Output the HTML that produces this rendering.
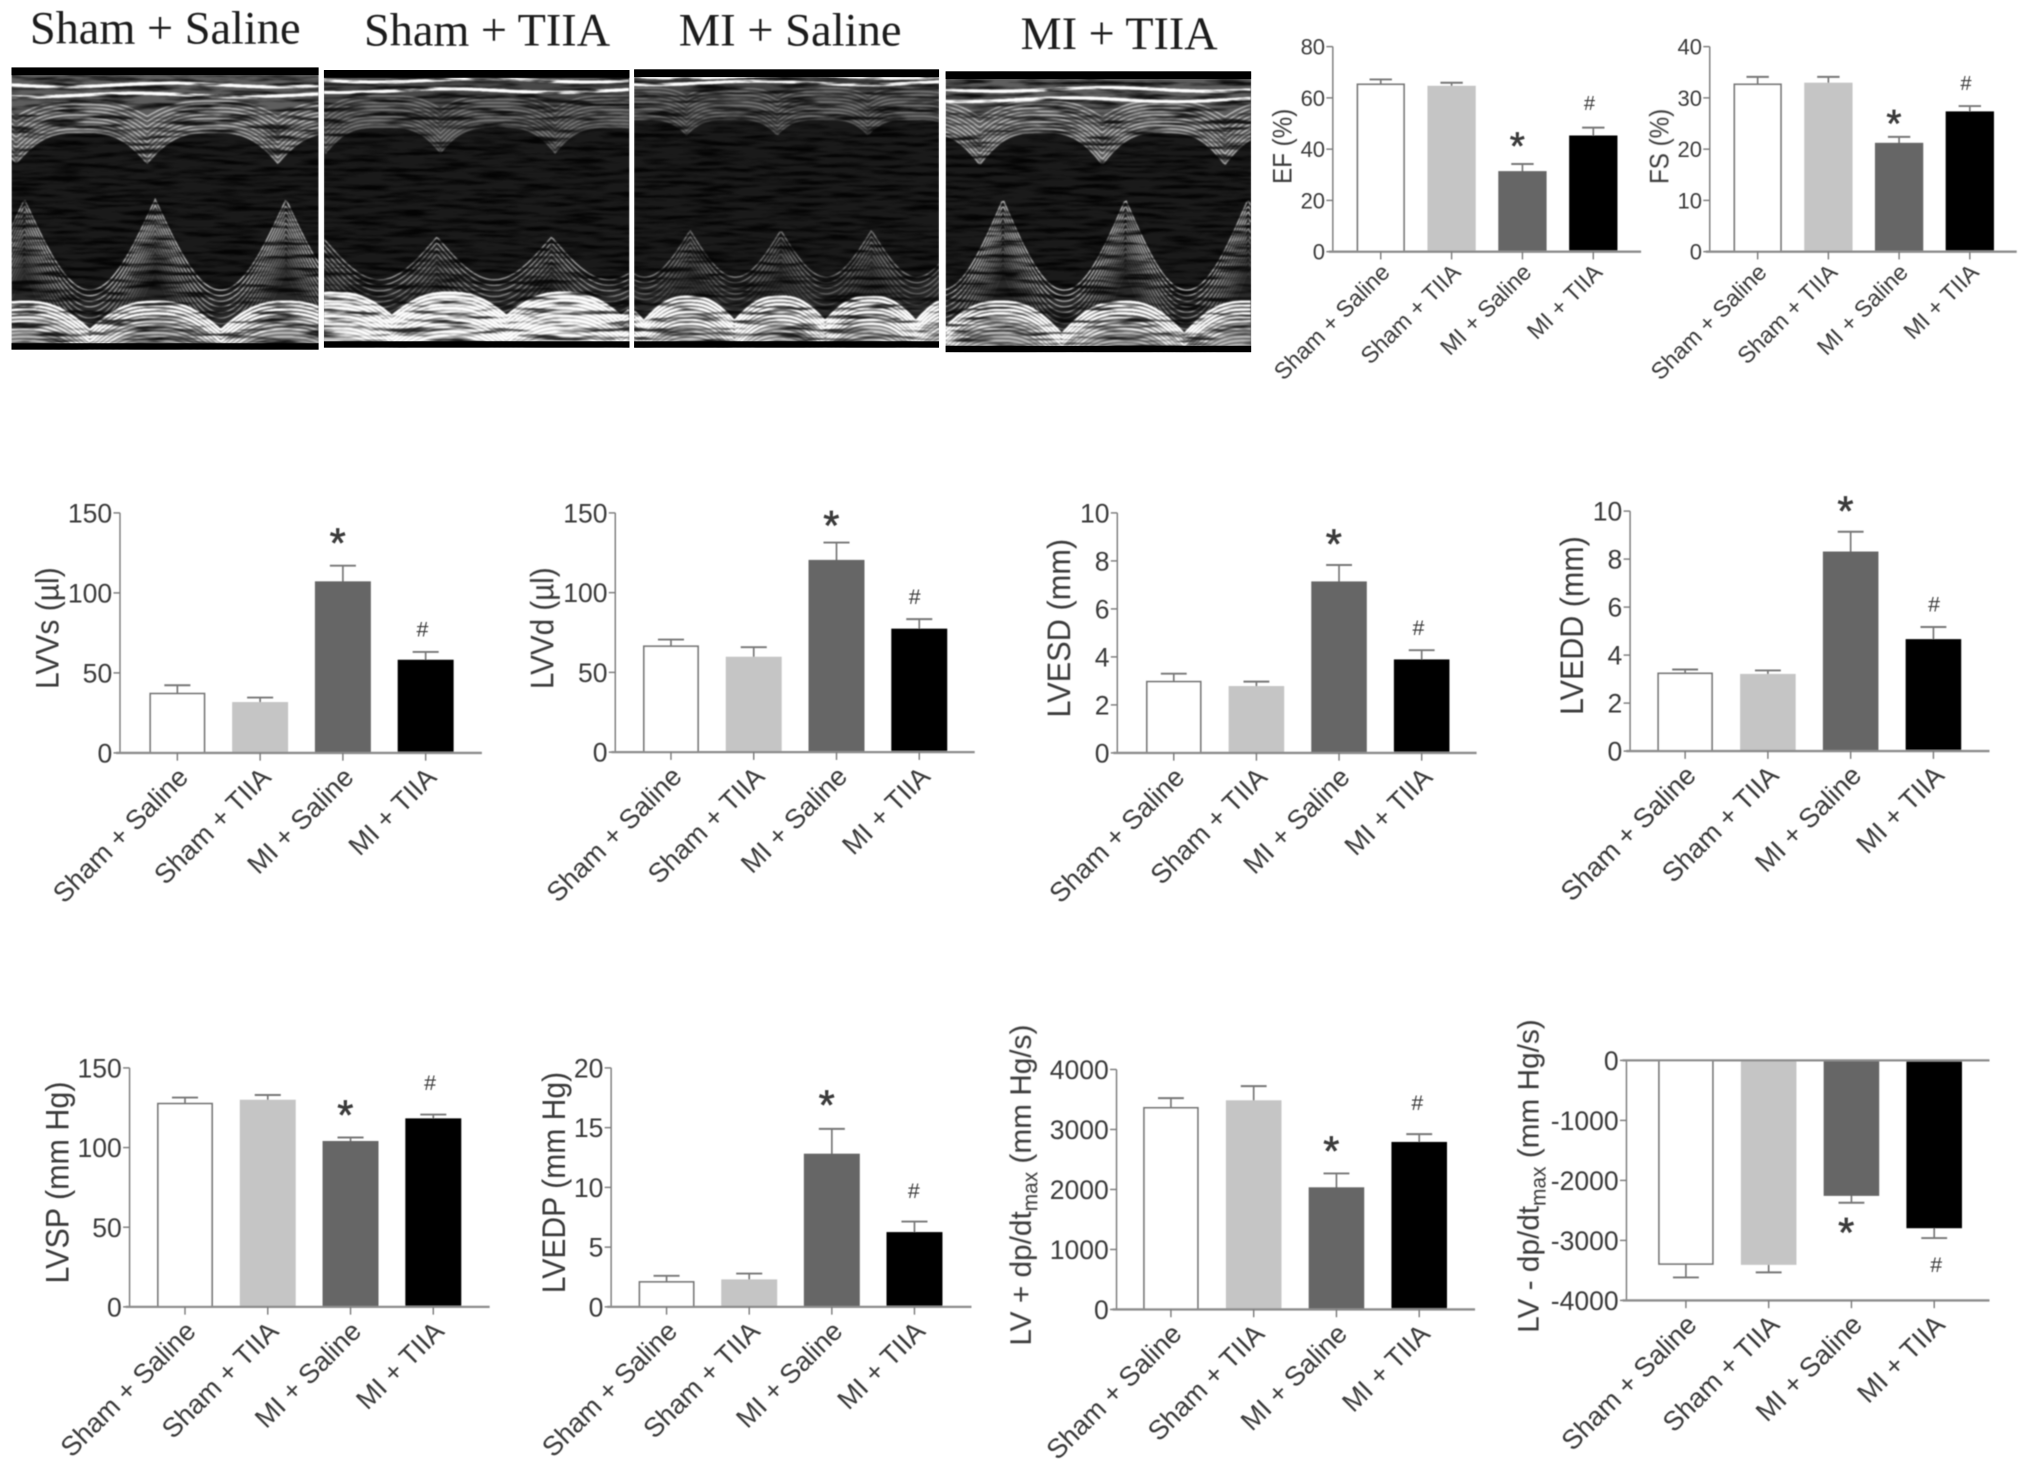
<!DOCTYPE html>
<html lang="en">
<head>
<meta charset="utf-8">
<title>Echocardiography and haemodynamic bar charts</title>
<style>
html,body{margin:0;padding:0;background:#fff;}
svg{display:block;}
text{font-family:"Liberation Sans",Arial,sans-serif;fill:#3a3a3a;}
.serif{font-family:"Liberation Serif","Times New Roman",serif;fill:#1e1e1e;}
</style>
</head>
<body>
<svg id="figure" xmlns="http://www.w3.org/2000/svg" width="2031" height="1468" viewBox="0 0 1568 1133.4">
  <defs>
    <filter id="speckle" x="0" y="0" width="1" height="1" color-interpolation-filters="sRGB">
      <feTurbulence type="fractalNoise" baseFrequency="0.03 0.3" numOctaves="4" seed="7" result="n"/>
      <feColorMatrix in="n" type="matrix" values="3.2 0 0 0 -0.85  3.2 0 0 0 -0.85  3.2 0 0 0 -0.85  0 0 0 0 1" result="g"/>
      <feComposite in="SourceGraphic" in2="g" operator="arithmetic" k1="1.25" k2="0.2" k3="0" k4="0" result="c"/>
      <feGaussianBlur in="c" stdDeviation="0.7"/>
    </filter>
    <filter id="soften" x="-2%" y="-2%" width="104%" height="104%">
      <feGaussianBlur stdDeviation="0.4"/>
    </filter>
  </defs>
  <g id="echo-layer"></g>
  <g filter="url(#soften)">
    <text class="serif" x="23" y="33.5" font-size="36" textLength="209" lengthAdjust="spacingAndGlyphs">Sham + Saline</text>
    <text class="serif" x="281" y="35" font-size="36" textLength="190" lengthAdjust="spacingAndGlyphs">Sham + TIIA</text>
    <text class="serif" x="524" y="35" font-size="36" textLength="172" lengthAdjust="spacingAndGlyphs">MI + Saline</text>
    <text class="serif" x="788" y="38" font-size="36" textLength="152" lengthAdjust="spacingAndGlyphs">MI + TIIA</text>
  </g>
  <g id="chart-layer" filter="url(#soften)"></g>
</svg>
<script>
// Shared categories
const categories = ['Sham + Saline', 'Sham + TIIA', 'MI + Saline', 'MI + TIIA'];

// EF
const efValues = [65.3, 64.4, 31.1, 45];
const efErrorTops = [67.2, 65.9, 34.2, 48.4];
const efTicks = [0, 20, 40, 60, 80];
const efMarks = ['', '', '*', '#'];
const efMarkLevels = [0, 0, 43.8, 57.9];
// FS
const fsValues = [32.65, 32.8, 21.07, 27.2];
const fsErrorTops = [34.1, 34.1, 22.4, 28.4];
const fsTicks = [0, 10, 20, 30, 40];
const fsMarks = ['', '', '*', '#'];
const fsMarkLevels = [0, 0, 26.3, 32.8];
// LVVs
const lvvsValues = [37.1, 31.25, 106.7, 57.7];
const lvvsErrorTops = [42.3, 34.6, 117, 63.1];
const lvvsTicks = [0, 50, 100, 150];
const lvvsMarks = ['', '', '*', '#'];
const lvvsMarkLevels = [0, 0, 135.6, 77.3];
// LVVd
const lvvdValues = [66.4, 59.3, 120, 76.9];
const lvvdErrorTops = [70.6, 65.8, 131.4, 83.4];
const lvvdTicks = [0, 50, 100, 150];
const lvvdMarks = ['', '', '*', '#'];
const lvvdMarkLevels = [0, 0, 146.4, 97.3];
// LVESD
const lvesdValues = [2.97, 2.75, 7.11, 3.86];
const lvesdErrorTops = [3.3, 2.97, 7.83, 4.28];
const lvesdTicks = [0, 2, 4, 6, 8, 10];
const lvesdMarks = ['', '', '*', '#'];
const lvesdMarkLevels = [0, 0, 9.0, 5.2];
// LVEDD
const lveddValues = [3.24, 3.18, 8.28, 4.63];
const lveddErrorTops = [3.4, 3.36, 9.14, 5.17];
const lveddTicks = [0, 2, 4, 6, 8, 10];
const lveddMarks = ['', '', '*', '#'];
const lveddMarkLevels = [0, 0, 10.3, 6.1];
// LVSP
const lvspValues = [127.6, 129.5, 103.6, 117.8];
const lvspErrorTops = [131.4, 133, 106.3, 120.7];
const lvspTicks = [0, 50, 100, 150];
const lvspMarks = ['', '', '*', '#'];
const lvspMarkLevels = [0, 0, 125, 140.6];
// LVEDP
const lvedpValues = [2.09, 2.23, 12.75, 6.19];
const lvedpErrorTops = [2.6, 2.79, 14.9, 7.14];
const lvedpTicks = [0, 5, 10, 15, 20];
const lvedpMarks = ['', '', '*', '#'];
const lvedpMarkLevels = [0, 0, 17.5, 9.7];
// LV + dp/dt max
const dpPosValues = [3361, 3472, 2022, 2778];
const dpPosErrorTops = [3522, 3722, 2267, 2922];
const dpPosTicks = [0, 1000, 2000, 3000, 4000];
const dpPosMarks = ['', '', '*', '#'];
const dpPosMarkLevels = [0, 0, 2756, 3444];
// LV - dp/dt max
const dpNegValues = [-3394, -3394, -2244, -2783];
const dpNegErrorTops = [-3617, -3533, -2372, -2961];
const dpNegTicks = [-4000, -3000, -2000, -1000, 0];
const dpNegMarks = ['', '', '*', '#'];
const dpNegMarkLevels = [0, 0, -2750, -3405];

const NS = 'http://www.w3.org/2000/svg';
function mk(tag, attrs, parent) {
  const el = document.createElementNS(NS, tag);
  for (const k in attrs) el.setAttribute(k, attrs[k]);
  parent.appendChild(el);
  return el;
}

/* ---------- chart panels ---------- */
const barFills = ['#ffffff', '#c5c5c5', '#666666', '#000000'];
const barStrokes = ['#777777', '#c5c5c5', '#666666', '#000000'];
const panels = [
  {id:'ef', title:['EF (%)'], titleLen:58, values:efValues, errs:efErrorTops, ticks:efTicks, marks:efMarks, levels:efMarkLevels,
   axisX:1029, axisEnd:1267, yTop:36, yBase:194.3, c0:1066, step:54.7, barW:36, fT:17, fY:21, fC:18, titleX:997, titleY:113, big:false, hashDx:-3},
  {id:'fs', title:['FS (%)'], titleLen:58, values:fsValues, errs:fsErrorTops, ticks:fsTicks, marks:fsMarks, levels:fsMarkLevels,
   axisX:1320, axisEnd:1557, yTop:36, yBase:194.3, c0:1357, step:54.6, barW:36, fT:17, fY:21, fC:18, titleX:1288, titleY:113, big:false, hashDx:-3},
  {id:'lvvs', title:['LVVs (\u00b5l)'], titleLen:94, values:lvvsValues, errs:lvvsErrorTops, ticks:lvvsTicks, marks:lvvsMarks, levels:lvvsMarkLevels,
   axisX:92.6, axisEnd:372, yTop:396, yBase:581.3, c0:136.9, step:63.9, barW:41.9, fT:20.5, fY:25, fC:21, titleX:45, titleY:485, big:true, hashDx:-2.5},
  {id:'lvvd', title:['LVVd (\u00b5l)'], titleLen:94, values:lvvdValues, errs:lvvdErrorTops, ticks:lvvdTicks, marks:lvvdMarks, levels:lvvdMarkLevels,
   axisX:475, axisEnd:752.5, yTop:396, yBase:580.7, c0:518, step:63.9, barW:41.9, fT:20.5, fY:25, fC:21, titleX:427, titleY:485, big:true, hashDx:-3.5},
  {id:'lvesd', title:['LVESD (mm)'], titleLen:138, values:lvesdValues, errs:lvesdErrorTops, ticks:lvesdTicks, marks:lvesdMarks, levels:lvesdMarkLevels,
   axisX:862.6, axisEnd:1140, yTop:396, yBase:581.3, c0:906.2, step:63.8, barW:41.6, fT:20.5, fY:25, fC:21, titleX:826, titleY:485, big:true, hashDx:-2.5},
  {id:'lvedd', title:['LVEDD (mm)'], titleLen:138, values:lveddValues, errs:lveddErrorTops, ticks:lveddTicks, marks:lveddMarks, levels:lveddMarkLevels,
   axisX:1258.5, axisEnd:1536, yTop:394.6, yBase:579.9, c0:1301, step:63.9, barW:41.6, fT:20.5, fY:25, fC:21, titleX:1222, titleY:483, big:true, hashDx:0.5},
  {id:'lvsp', title:['LVSP (mm Hg)'], titleLen:156, values:lvspValues, errs:lvspErrorTops, ticks:lvspTicks, marks:lvspMarks, levels:lvspMarkLevels,
   axisX:100, axisEnd:378, yTop:824.5, yBase:1009, c0:142.8, step:63.9, barW:41.9, fT:20.5, fY:25, fC:21, titleX:53, titleY:913, big:true, hashDx:-2.5},
  {id:'lvedp', title:['LVEDP (mm Hg)'], titleLen:171, values:lvedpValues, errs:lvedpErrorTops, ticks:lvedpTicks, marks:lvedpMarks, levels:lvedpMarkLevels,
   axisX:471.8, axisEnd:750, yTop:824.5, yBase:1009, c0:514.6, step:63.8, barW:41.9, fT:20.5, fY:25, fC:21, titleX:436, titleY:913, big:true, hashDx:-0.5},
  {id:'dp-positive', title:['LV + dp/dt','max',' (mm Hg/s)'], values:dpPosValues, errs:dpPosErrorTops, ticks:dpPosTicks, marks:dpPosMarks, levels:dpPosMarkLevels,
   axisX:862, axisEnd:1138.8, yTop:825.7, yBase:1011, c0:904, step:63.9, barW:41.6, fT:20.5, fY:23, fC:21, titleX:796, titleY:915, big:true, hashDx:-1.5},
  {id:'dp-negative', title:['LV - dp/dt','max',' (mm Hg/s)'], values:dpNegValues, errs:dpNegErrorTops, ticks:dpNegTicks, marks:dpNegMarks, levels:dpNegMarkLevels,
   axisX:1255.7, axisEnd:1536, yTop:1004, yBase:818.7, c0:1301.6, step:63.9, barW:41.6, fT:20.5, fY:23, fC:21, titleX:1188, titleY:908, big:true, negative:true, hashDx:1.5}
];

const AXIS = '#7a7a7a';
const chartLayer = document.getElementById('chart-layer');

panels.forEach(function (p) {
  const g = mk('g', {}, chartLayer);
  
  

  // Axis functions
  const dMin = Math.min.apply(null, p.ticks);
  const dMax = Math.max.apply(null, p.ticks);
  const yLow = p.negative ? p.yTop : p.yBase;   // pixel of dMin
  const yHigh = p.negative ? p.yBase : p.yTop;  // pixel of dMax
  const yScale = function (v) { return yLow + (v - dMin) / (dMax - dMin) * (yHigh - yLow); };
  const xBand = function (i) { return p.c0 + p.step * i; };
  const zeroY = yScale(0);
  const catAxisY = yLow;

  // Error bars
  p.values.forEach(function (v, i) {
    const cx = xBand(i);
    const stem = mk('line', {x1:cx, x2:cx, y1:yScale(v), y2:yScale(p.errs[i]), stroke:'#777', 'stroke-width':1.3}, g);
    
    
    const cap = mk('line', {x1:cx - p.barW * 0.24, x2:cx + p.barW * 0.24, y1:yScale(p.errs[i]), y2:yScale(p.errs[i]), stroke:'#777', 'stroke-width':1.5}, g);
    
    
  });

  // Bars
  p.values.forEach(function (v, i) {
    const cx = xBand(i);
    const y1 = Math.min(yScale(v), zeroY);
    const y2 = Math.max(yScale(v), zeroY);
    const bar = mk('rect', {x:cx - p.barW / 2, y:y1, width:p.barW, height:y2 - y1, fill:barFills[i], stroke:barStrokes[i], 'stroke-width':1.3}, g);
    
    
  });

  // Y axis and ticks
  const yAxis = mk('line', {x1:p.axisX, x2:p.axisX, y1:p.yTop, y2:p.yBase, stroke:AXIS, 'stroke-width':1.1}, g);
  
  
  p.ticks.forEach(function (t) {
    const ty = yScale(t);
    const tick = mk('line', {x1:p.axisX - 5, x2:p.axisX, y1:ty, y2:ty, stroke:AXIS, 'stroke-width':1.1}, g);
    
    
    const label = mk('text', {x:p.axisX - 6, y:ty + p.fT * 0.36, 'font-size':p.fT, 'text-anchor':'end'}, g);
    label.textContent = String(t);
    
    
  });

  // X axis lines
  const xAxis = mk('line', {x1:p.axisX - 3, x2:p.axisEnd, y1:catAxisY, y2:catAxisY, stroke:'#8c8c8c', 'stroke-width':1.8}, g);
  
  
  if (p.negative) {
    const zeroLine = mk('line', {x1:p.axisX - 3, x2:p.axisEnd, y1:zeroY, y2:zeroY, stroke:'#8c8c8c', 'stroke-width':1.8}, g);
    
    
  }

  // Category ticks and labels
  categories.forEach(function (c, i) {
    const cx = xBand(i);
    const tick = mk('line', {x1:cx, x2:cx, y1:catAxisY, y2:catAxisY + 6, stroke:AXIS, 'stroke-width':1.1}, g);
    
    
    const lx = cx + (p.big ? 9.5 : 8);
    const ly = catAxisY + (p.big ? 20 : 17);
    const label = mk('text', {x:lx, y:ly, 'font-size':p.fC, 'text-anchor':'end', transform:'rotate(-45 ' + lx + ' ' + ly + ')'}, g);
    label.textContent = c;
    
    
  });

  // Significance marks
  p.marks.forEach(function (m, i) {
    if (!m) return;
    const isStar = m === '*';
    const fs = isStar ? (p.big ? 32 : 30) : (p.big ? 16.5 : 15.5);
    const cx = xBand(i) + (isStar ? -4 : p.hashDx);
    const cy = yScale(p.levels[i]);
    const mark = mk('text', {x:cx, y:cy + fs * (isStar ? 0.52 : 0.33), 'font-size':fs, 'text-anchor':'middle', stroke:isStar ? '#3a3a3a' : 'none', 'stroke-width':isStar ? 0.5 : 0}, g);
    mark.textContent = m;
    
    
  });

  // Y title
  const title = mk('text', {x:p.titleX, y:p.titleY, 'font-size':p.fY, 'text-anchor':'middle', transform:'rotate(-90 ' + p.titleX + ' ' + p.titleY + ')'}, g);
  
  
  if (p.title.length === 1) {
    title.textContent = p.title[0];
    title.setAttribute('textLength', p.titleLen);
    title.setAttribute('lengthAdjust', 'spacingAndGlyphs');
  } else {
    const a = mk('tspan', {}, title);
    a.textContent = p.title[0];
    const b = mk('tspan', {'font-size':p.fY * 0.7, dy:p.fY * 0.22}, title);
    b.textContent = p.title[1];
    const cc = mk('tspan', {dy:-p.fY * 0.22}, title);
    cc.textContent = p.title[2];
  }
});

/* ---------- M-mode echo images (decorative texture, not chart data) ---------- */
const echoLayer = document.getElementById('echo-layer');
const echoes = [
  {id:'sham-saline', x:8.8, y:52, w:237.2, h:218, P:101, valley:69.4, bPeak:233, bValley:255, postX:119.8, pPeak:154, pValley:224, dipX:113.5, aTop:102, aDip:126, lines:[65.6,73.4], aOp:.55, pOp:.6, bFill:'#4a4a4a', bOp:.5, dipPow:1.6},
  {id:'sham-tiia', x:250, y:54, w:236, h:214.5, P:88.5, valley:302.6, bPeak:226, bValley:244, postX:337.3, pPeak:183, pValley:216, dipX:340, aTop:98, aDip:118, lines:[62,70], aOp:.28, pOp:.5, bFill:'#8a8a8a', bOp:.8, dipPow:1.8},
  {id:'mi-saline', x:489.5, y:53.5, w:235.5, h:215, P:70, valley:567, bPeak:229, bValley:248, postX:532.8, pPeak:178, pValley:214, dipX:600, aTop:92, aDip:104, lines:[59,64], aOp:.26, pOp:.38, bFill:'#505050', bOp:.6, dipPow:2},
  {id:'mi-tiia', x:730, y:55, w:236, h:217, P:94.6, valley:819.7, bPeak:233, bValley:258, postX:868.9, pPeak:154, pValley:224, dipX:851, aTop:102, aDip:127, lines:[69,77], aOp:.55, pOp:.6, bFill:'#4a4a4a', bOp:.5, dipPow:1.6}
];

function tracePath(x0, x1, f) {
  let d = '';
  for (let x = x0; x <= x1 + 0.01; x += 1.5) {
    d += (d ? 'L' : 'M') + x.toFixed(1) + ' ' + f(x).toFixed(1);
  }
  return d;
}

echoes.forEach(function (e) {
  const x0 = e.x, x1 = e.x + e.w, top = e.y, bot = e.y + e.h;
  const bandY = function (x) {
    return e.bPeak + (e.bValley - e.bPeak) * Math.pow(1 - Math.abs(Math.sin(Math.PI * (x - e.valley) / e.P)), 1.3);
  };
  const postY = function (x) {
    return e.pPeak + (e.pValley - e.pPeak) * Math.abs(Math.sin(Math.PI * (x - e.postX) / e.P));
  };
  const antY = function (x) {
    return (e.aDip - e.aTop) * Math.pow(1 - Math.abs(Math.sin(Math.PI * (x - e.dipX) / e.P)), e.dipPow);
  };

  const wrap = mk('g', {}, echoLayer);
  
  

  const clipId = 'clip-' + e.id;
  const defsEl = mk('clipPath', {id:clipId}, wrap);
  mk('rect', {x:x0, y:top, width:e.w, height:e.h}, defsEl);

  const g = mk('g', {'clip-path':'url(#' + clipId + ')'}, wrap);
  const tex = mk('g', {filter:'url(#speckle)'}, g);

  mk('rect', {x:x0, y:top, width:e.w, height:e.h, fill:'#121212'}, tex);

  // Anterior tissue haze
  const antHaze = tracePath(x0, x1, function (x) { return e.aTop + antY(x); });
  mk('path', {d:antHaze + 'L' + x1 + ' ' + top + 'L' + x0 + ' ' + top + 'Z', fill:'#4a4a4a', opacity:e.aOp + 0.3}, tex);

  // Anterior wall layers
  for (let k = 0; k < 10; k++) {
    const off = e.aTop - 24 + k * 2.7;
    mk('path', {d:tracePath(x0, x1, function (x) { return off + antY(x) * (0.5 + k * 0.055); }), fill:'none', stroke:'#c2c2c2', 'stroke-width':1, opacity:e.aOp}, tex);
  }
  // Bright septal lines
  e.lines.forEach(function (ly, n) {
    mk('path', {d:tracePath(x0, x1, function (x) { return ly + 1.4 * Math.sin((x - x0) / 26 + n); }), fill:'none', stroke:'#ffffff', 'stroke-width':2.4, opacity:1}, tex);
  });

  // Posterior wall region
  const pTop = tracePath(x0, x1, function (x) { return postY(x) + 6; });
  let backD = '';
  for (let x = x1; x >= x0; x -= 1.5) backD += 'L' + x.toFixed(1) + ' ' + bandY(x).toFixed(1);
  mk('path', {d:pTop + backD + 'Z', fill:'#1c1c1c'}, tex);
  for (let k = 0; k < 14; k++) {
    mk('path', {d:tracePath(x0, x1, function (x) { return Math.min(postY(x) + k * 4.3, bandY(x)); }), fill:'none', stroke:'#dcdcdc', 'stroke-width':1, opacity:Math.max(e.pOp - k * 0.045, 0.06)}, tex);
  }

  // Bright posterior band
  const bTop = tracePath(x0, x1, bandY);
  mk('path', {d:bTop + 'L' + x1 + ' ' + bot + 'L' + x0 + ' ' + bot + 'Z', fill:e.bFill}, tex);
  for (let k = 0; k < 12; k++) {
    mk('path', {d:tracePath(x0, x1, function (x) { return bandY(x) + k * 3; }), fill:'none', stroke:'#ffffff', 'stroke-width':1.8, opacity:k < 4 ? 1 : (k < 8 ? e.bOp : e.bOp * 0.6)}, tex);
  }

  const topStrip = mk('rect', {x:x0, y:top, width:e.w, height:6, fill:'#000'}, g);
  
  
  const botStrip = mk('rect', {x:x0, y:bot - 5, width:e.w, height:5, fill:'#000'}, g);
  
  
});
</script>
</body>
</html>
